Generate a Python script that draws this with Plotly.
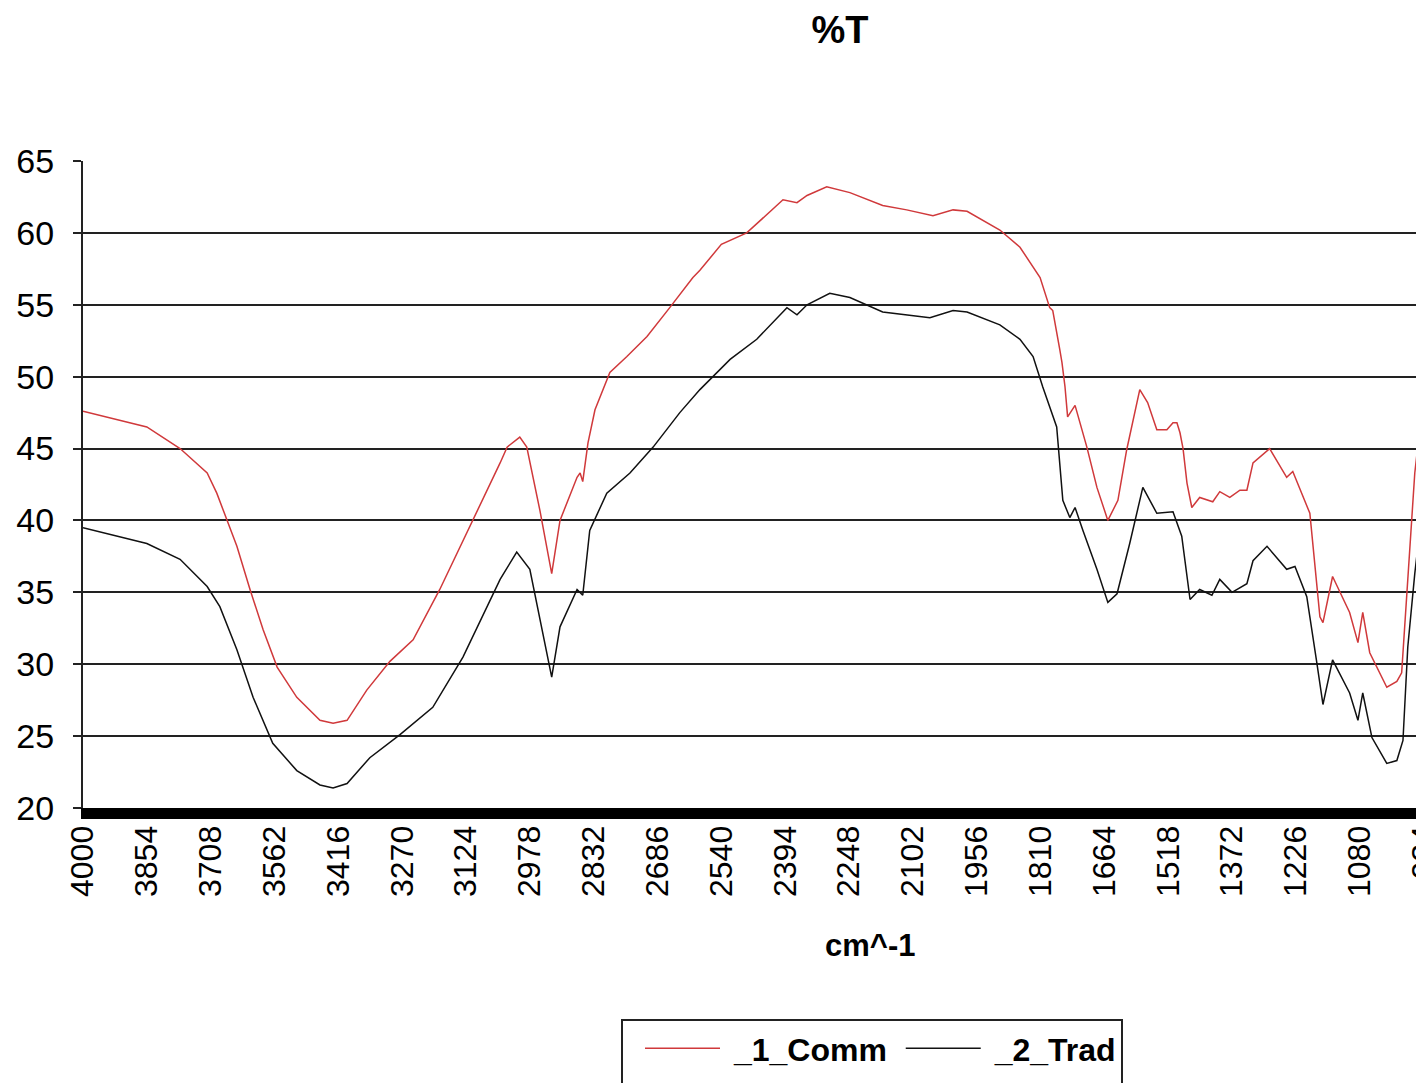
import plotly.graph_objects as go

# ---------------- data ----------------
comm_wn = [4000, 3854, 3778, 3716, 3694, 3671, 3648, 3618, 3588, 3556, 3511, 3458, 3428, 3396,
           3351, 3298, 3245, 3184, 3108, 3046, 3030, 3001, 2985, 2955, 2928, 2909, 2870, 2863,
           2857, 2845, 2829, 2795, 2756, 2710, 2658, 2605, 2589, 2540, 2482, 2399, 2367, 2344,
           2299, 2246, 2171, 2116, 2056, 2010, 1978, 1903, 1857, 1827, 1811, 1789, 1782, 1766,
           1761, 1754, 1748, 1731, 1704, 1681, 1656, 1633, 1613, 1583, 1565, 1544, 1521, 1507,
           1498, 1491, 1484, 1475, 1464, 1446, 1416, 1400, 1377, 1354, 1338, 1324, 1286, 1247,
           1233, 1194, 1171, 1164, 1142, 1103, 1084, 1073, 1057, 1018, 995, 984, 970, 954, 940]
comm_t = [47.6, 46.5, 45.0, 43.3, 41.9, 40.0, 38.2, 35.2, 32.4, 29.8, 27.7, 26.1, 25.9, 26.1,
          28.2, 30.2, 31.7, 35.2, 40.0, 44.0, 45.1, 45.8, 45.1, 40.7, 36.3, 40.0, 43.0, 43.3,
          42.7, 45.4, 47.7, 50.3, 51.4, 52.8, 54.8, 56.9, 57.4, 59.2, 60.0, 62.3, 62.1, 62.6,
          63.2, 62.8, 61.9, 61.6, 61.2, 61.6, 61.5, 60.2, 59.0, 57.6, 56.9, 54.8, 54.6, 51.9,
          51.0, 49.3, 47.2, 48.0, 45.1, 42.3, 40.0, 41.4, 44.9, 49.1, 48.2, 46.3, 46.3, 46.8,
          46.8, 46.1, 45.0, 42.6, 40.9, 41.6, 41.3, 42.0, 41.6, 42.1, 42.1, 44.0, 45.0, 43.0,
          43.4, 40.5, 33.3, 32.9, 36.1, 33.6, 31.5, 33.6, 30.8, 28.4, 28.8, 29.4, 35.9, 43.3, 47.0]

trad_wn = [4000, 3854, 3778, 3716, 3687, 3648, 3611, 3566, 3511, 3458, 3428, 3396, 3344, 3275,
           3200, 3131, 3046, 3008, 2978, 2948, 2928, 2909, 2870, 2857, 2841, 2802, 2749, 2696,
           2635, 2589, 2520, 2459, 2390, 2367, 2344, 2292, 2246, 2171, 2116, 2063, 2010, 1978,
           1903, 1857, 1827, 1805, 1773, 1759, 1743, 1731, 1713, 1681, 1656, 1635, 1606, 1576,
           1544, 1507, 1487, 1468, 1446, 1418, 1400, 1372, 1338, 1324, 1292, 1247, 1228, 1201,
           1178, 1164, 1142, 1103, 1084, 1073, 1052, 1018, 995, 981, 970, 954, 940]
trad_t = [39.5, 38.4, 37.3, 35.4, 34.0, 31.0, 27.7, 24.5, 22.6, 21.6, 21.4, 21.7, 23.5, 25.1,
          27.0, 30.5, 35.9, 37.8, 36.6, 32.2, 29.1, 32.6, 35.2, 34.8, 39.3, 41.9, 43.3, 45.1,
          47.5, 49.1, 51.2, 52.6, 54.8, 54.3, 55.0, 55.8, 55.5, 54.5, 54.3, 54.1, 54.6, 54.5,
          53.6, 52.6, 51.4, 49.3, 46.5, 41.4, 40.2, 40.9, 39.3, 36.6, 34.3, 34.9, 38.4, 42.3,
          40.5, 40.6, 38.9, 34.5, 35.2, 34.8, 35.9, 35.0, 35.6, 37.2, 38.2, 36.6, 36.8, 34.7,
          30.1, 27.2, 30.3, 28.0, 26.1, 28.0, 24.9, 23.1, 23.3, 24.7, 31.2, 36.3, 40.0]

x_ticks = [4000 - 146 * i for i in range(25)]
y_ticks = [20, 25, 30, 35, 40, 45, 50, 55, 60, 65]
series_names = ["_1_Comm", "_2_Trad"]

FONT = "Liberation Sans, Arial, sans-serif"
NB = "\u00a0"

fig = go.Figure()
fig.add_trace(go.Scatter(x=comm_wn, y=comm_t, mode="lines", name=NB + series_names[0] + NB,
                         line=dict(color="#d0393b", width=1.5)))
fig.add_trace(go.Scatter(x=trad_wn, y=trad_t, mode="lines", name=NB + series_names[1],
                         line=dict(color="#111111", width=1.5)))

W, H = 1680, 1083
L, R, T, B = 83, 23, 161, 275
PW, PH = W - L - R, H - T - B


def px_x(p):
    return (p - L) / PW


def px_y(p):
    return (H - B - p) / PH


fig.update_layout(
    width=W, height=H,
    margin=dict(l=L, r=R, t=T, b=B, autoexpand=False),
    paper_bgcolor="white", plot_bgcolor="white",
    font=dict(family=FONT, color="black"),
    title=dict(text="<b>%T</b>", x=0.5, xanchor="center", y=1 - 30 / H, yanchor="middle",
               font=dict(size=38, family=FONT, color="black")),
    showlegend=True,
    legend=dict(orientation="h", xref="container", yref="container",
                x=640 / W, xanchor="left", y=1 - 1021 / H, yanchor="top",
                borderwidth=0, bgcolor="rgba(0,0,0,0)",
                font=dict(size=32, family=FONT, color="black", weight="bold"),
                itemwidth=75, tracegroupgap=0),
    shapes=[dict(type="rect", xref="paper", yref="paper",
                 x0=px_x(622), x1=px_x(1122), y0=px_y(1095), y1=px_y(1020),
                 line=dict(color="#222", width=2), fillcolor="rgba(0,0,0,0)", layer="above")],
    annotations=[dict(text="<b>cm^-1</b>", xref="x domain", yref="paper",
                      x=0.5, y=px_y(945), xanchor="center", yanchor="middle",
                      showarrow=False, font=dict(size=31, family=FONT, color="black"))],
)

fig.update_xaxes(
    range=[4000, 400], tickmode="array", tickvals=x_ticks,
    ticktext=[str(v) for v in x_ticks], tickangle=-90,
    tickfont=dict(size=32, family=FONT, color="black"),
    showgrid=False, zeroline=False,
    showline=True, linecolor="black", linewidth=11,
    ticks="", ticklabelstandoff=-6,
    automargin=False,
)
fig.update_yaxes(
    range=[20, 65], tickmode="array", tickvals=y_ticks,
    tickfont=dict(size=34, family=FONT, color="black"),
    showgrid=True, gridcolor="#222", gridwidth=2, zeroline=False,
    showline=True, linecolor="#222", linewidth=2,
    ticks="outside", ticklen=8, tickcolor="#222", tickwidth=2,
    ticklabelstandoff=12, automargin=False,
)

fig.write_html("out.html", post_script=(
    "document.documentElement.style.overflow='hidden';"
    "document.body.style.overflow='hidden';"
    "document.body.style.margin='0';"))
